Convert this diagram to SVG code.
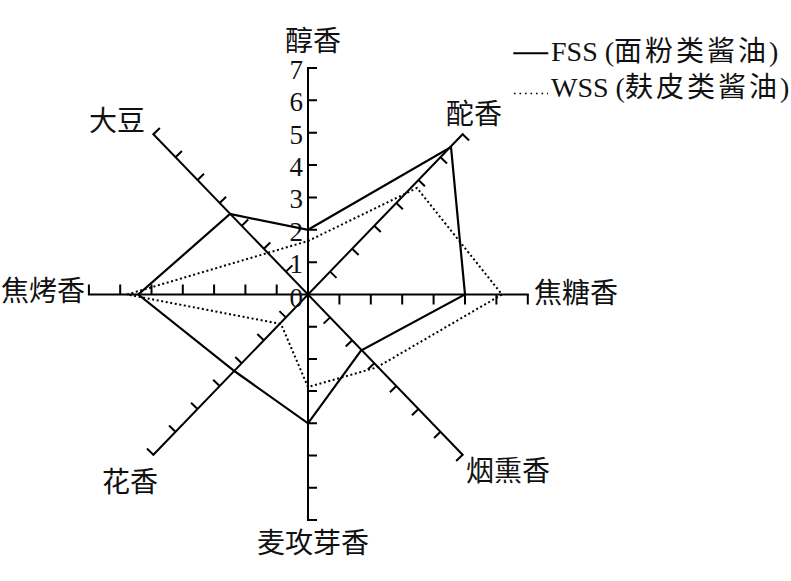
<svg xmlns="http://www.w3.org/2000/svg" width="791" height="581" viewBox="0 0 791 581">
<style>
  .ax { stroke:#000; stroke-width:2; fill:none; stroke-linecap:square; }
  .tk { stroke:#000; stroke-width:2; fill:none; }
  .fss { stroke:#000; stroke-width:2.2; fill:none; stroke-linejoin:miter; }
  .wss { stroke:#000; stroke-width:2; fill:none; stroke-dasharray:2 2.6; }
  text { font-family:"Liberation Serif","Noto Sans CJK SC",serif; fill:#111; }
  .lab { font-size:28px; }
  .num { font-size:27px; text-anchor:end; }
  .leg { font-size:28px; }
  .cjk { letter-spacing:3px; }
</style>
<rect width="791" height="581" fill="#fff"/>

<g id="axes">
  <line class="ax" x1="308" y1="68" x2="308" y2="520"/>
  <line class="ax" x1="88.9" y1="294.5" x2="527.8" y2="294.5"/>
  <line class="ax" x1="153.37" y1="134.27" x2="462.63" y2="454.73"/>
  <line class="ax" x1="462.63" y1="134.27" x2="153.37" y2="454.73"/>
</g>

<g id="ticks">
  <path class="tk" d="M308 262.14h9M308 229.78h9M308 197.42h9M308 165.06h9M308 132.7h9M308 100.34h9M308 67.98h9"/>
  <path class="tk" d="M308 326.7h9M308 358.9h9M308 391.1h9M308 423.3h9M308 455.5h9M308 487.7h9M308 519.9h9"/>
  <path class="tk" d="M339.4 294.5v10M370.8 294.5v10M402.2 294.5v10M433.6 294.5v10M465 294.5v10M496.4 294.5v10M527.8 294.5v10"/>
  <path class="tk" d="M276.7 294.5v-10M245.4 294.5v-10M214.1 294.5v-10M182.8 294.5v-10M151.5 294.5v-10M120.2 294.5v-10M88.9 294.5v-10"/>
  <path class="tk" d="M330.09 271.61l6.48 6.25M352.18 248.72l6.48 6.25M374.27 225.83l6.48 6.25M396.36 202.94l6.48 6.25M418.45 180.05l6.48 6.25M440.54 157.16l6.48 6.25M462.63 134.27l6.48 6.25"/>
  <path class="tk" d="M285.91 271.61l6.48 -6.25M263.82 248.72l6.48 -6.25M241.73 225.83l6.48 -6.25M219.64 202.94l6.48 -6.25M197.55 180.05l6.48 -6.25M175.46 157.16l6.48 -6.25M153.37 134.27l6.48 -6.25"/>
  <path class="tk" d="M330.09 317.39l-6.48 6.25M352.18 340.28l-6.48 6.25M374.27 363.17l-6.48 6.25M396.36 386.06l-6.48 6.25M418.45 408.95l-6.48 6.25M440.54 431.84l-6.48 6.25M462.63 454.73l-6.48 6.25"/>
  <path class="tk" d="M285.91 317.39l-6.48 -6.25M263.82 340.28l-6.48 -6.25M241.73 363.17l-6.48 -6.25M219.64 386.06l-6.48 -6.25M197.55 408.95l-6.48 -6.25M175.46 431.84l-6.48 -6.25M153.37 454.73l-6.48 -6.25"/>
</g>

<g id="scale-labels" class="num">
  <text x="303" y="306.5">0</text>
  <text x="303" y="273">1</text>
  <text x="303" y="240.5">2</text>
  <text x="303" y="208">3</text>
  <text x="303" y="176">4</text>
  <text x="303" y="143.5">5</text>
  <text x="303" y="111">6</text>
  <text x="303" y="78.5">7</text>
</g>

<g id="series-wss">
  <polygon class="wss" points="308,241 417,188 502,294.5 376.5,367.5 308,387 281,324 127,294.5 267.8,252.9"/>
</g>
<g id="series-fss">
  <polygon class="fss" points="308,229.8 451,147 465,294.5 361,350.5 308,423.3 235,371.5 138.3,294.5 230,214"/>
</g>

<g id="axis-labels" class="lab">
  <text id="lab-chunxiang" x="313" y="51" text-anchor="middle">醇香</text>
  <text id="lab-tuoxiang" x="474" y="124" text-anchor="middle">酡香</text>
  <text id="lab-jiaotang" x="534" y="303">焦糖香</text>
  <text id="lab-yanxun" x="466" y="481">烟熏香</text>
  <text id="lab-maiya" x="313" y="553" text-anchor="middle">麦攻芽香</text>
  <text id="lab-hua" x="102" y="492">花香</text>
  <text id="lab-jiaokao" x="1" y="301">焦烤香</text>
  <text id="lab-dadou" x="89" y="131">大豆</text>
</g>

<g id="legend" class="leg">
  <line x1="513.3" y1="53.3" x2="548.3" y2="53.3" stroke="#000" stroke-width="2"/>
  <text x="551" y="61">FSS (<tspan class="cjk">面粉类酱油</tspan>)</text>
  <line x1="514" y1="93.5" x2="548" y2="93.5" stroke="#000" stroke-width="1.6" stroke-dasharray="1.6 3.9"/>
  <text x="551" y="97">WSS (<tspan class="cjk">麸皮类酱油</tspan>)</text>
</g>
</svg>
